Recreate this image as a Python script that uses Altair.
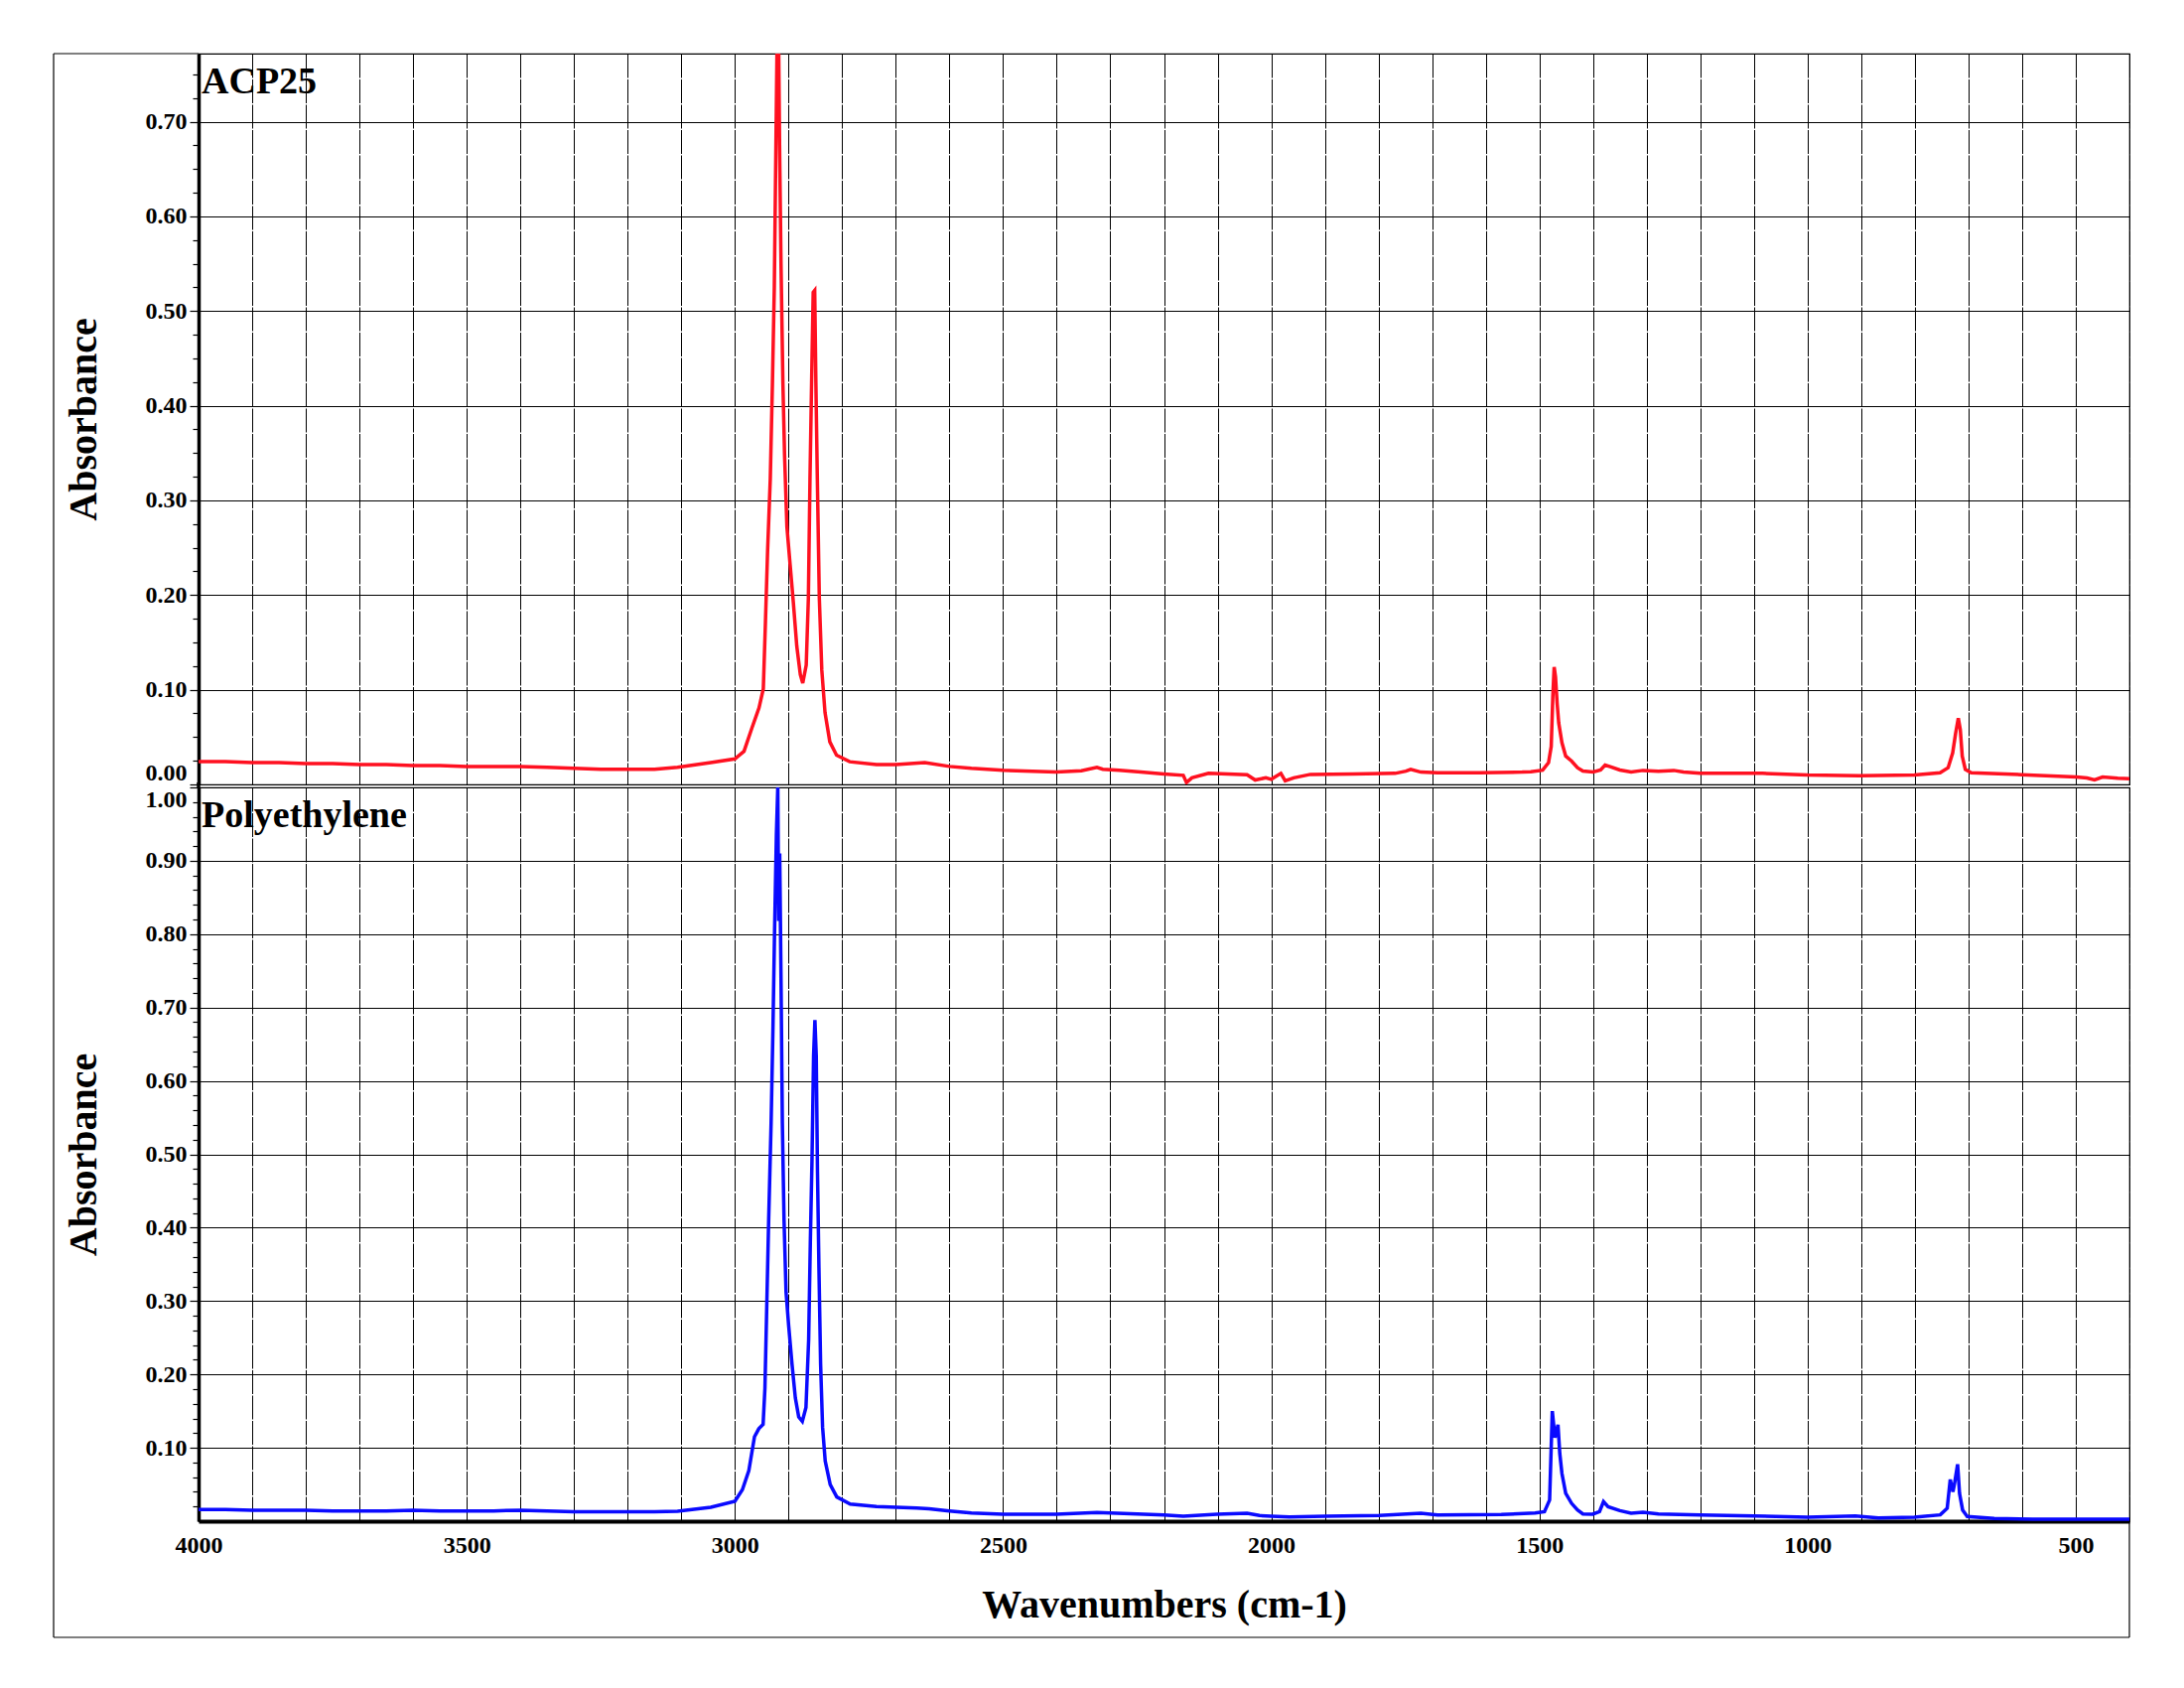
import altair as alt
import pandas as pd

# ---------------- data ----------------
acp_wn = [4000, 3950, 3900, 3850, 3800, 3750, 3700, 3650, 3600, 3550, 3500, 3450, 3400,
          3350, 3300, 3250, 3200, 3150, 3107, 3045, 3000, 2983, 2968, 2955, 2947, 2943,
          2939, 2934, 2930, 2926.5, 2923.5, 2921, 2918.5, 2916.7, 2914, 2910.5, 2907.4,
          2903, 2897, 2891, 2884.6, 2878, 2873.5, 2867, 2863, 2860, 2857, 2854, 2851.2,
          2849, 2846.3, 2842.6, 2838, 2832, 2823, 2810.5, 2786, 2736, 2700, 2646, 2600,
          2559, 2500, 2401, 2354, 2325, 2314, 2283, 2243, 2200, 2164, 2158, 2148, 2117,
          2045, 2030, 2010, 2000, 1982, 1974, 1958, 1927, 1848, 1769, 1749, 1740, 1721,
          1690, 1611, 1532, 1516, 1494, 1483, 1478, 1475, 1472.5, 1470, 1467, 1464, 1458,
          1451, 1440, 1429, 1419, 1400, 1386, 1377.5, 1368, 1350, 1329, 1307, 1278,
          1249.5, 1231.5, 1200, 1084, 1000, 904, 801, 753, 738, 729.5, 724, 719, 715.3,
          711.7, 706, 695, 601, 499, 479, 465, 450, 421.6, 400]
acp_abs = [0.024, 0.024, 0.023, 0.023, 0.022, 0.022, 0.021, 0.021, 0.020, 0.020, 0.019,
           0.019, 0.019, 0.018, 0.017, 0.016, 0.016, 0.016, 0.018, 0.023, 0.027, 0.035,
           0.060, 0.081, 0.101, 0.172, 0.247, 0.323, 0.424, 0.525, 0.676, 0.80, 0.79,
           0.676, 0.55, 0.424, 0.348, 0.272, 0.232, 0.192, 0.146, 0.116, 0.107, 0.126,
           0.197, 0.323, 0.424, 0.52, 0.522, 0.424, 0.323, 0.197, 0.121, 0.076, 0.045,
           0.031, 0.024, 0.021, 0.021, 0.023, 0.019, 0.017, 0.015, 0.013, 0.0145, 0.018,
           0.016, 0.015, 0.013, 0.011, 0.0096, 0.002, 0.007, 0.0117, 0.0103, 0.0047,
           0.007, 0.0054, 0.0117, 0.0037, 0.007, 0.0106, 0.011, 0.0117, 0.014, 0.0159,
           0.013, 0.0124, 0.0124, 0.013, 0.0134, 0.015, 0.023, 0.040, 0.093, 0.124,
           0.1135, 0.086, 0.065, 0.044, 0.030, 0.0246, 0.0176, 0.0141, 0.0131, 0.0152,
           0.0204, 0.0187, 0.0152, 0.0131, 0.0148, 0.0138, 0.0148, 0.0131, 0.0117,
           0.0117, 0.0099, 0.0092, 0.0099, 0.0124, 0.0176, 0.0333, 0.054, 0.070, 0.058,
           0.030, 0.016, 0.0124, 0.0103, 0.0078, 0.0068, 0.0047, 0.0078, 0.0065, 0.0061]

pe_wn = [4000, 3950, 3900, 3850, 3800, 3750, 3700, 3650, 3600, 3550, 3500, 3450, 3400,
         3350, 3300, 3250, 3200, 3150, 3107, 3045, 3000, 2986, 2974, 2963.5, 2955.4,
         2947.4, 2944, 2941, 2937, 2932.5, 2929, 2926, 2922.6, 2920, 2918.3, 2916.4,
         2914, 2911.5, 2908.4, 2904.6, 2899.7, 2893.5, 2887.3, 2881, 2874.3, 2867.5,
         2862.5, 2859.4, 2856.3, 2853.3, 2850.8, 2848.3, 2846, 2843.3, 2840.2, 2836.5,
         2831.6, 2822.3, 2810, 2785, 2736, 2661, 2638, 2600, 2559, 2500, 2401, 2325,
         2275, 2200, 2164, 2101, 2045, 2022, 2000, 1966, 1899, 1799, 1721, 1690, 1571,
         1508, 1490.6, 1481, 1476, 1471, 1465.4, 1462, 1458, 1451, 1440, 1429, 1419,
         1400.6, 1388, 1380.5, 1372, 1350, 1329, 1307, 1278, 1200, 1100, 1000, 911, 868,
         801, 752.7, 739.7, 734, 729, 725.5, 720.3, 716.7, 711, 702.3, 652, 580, 400]
pe_abs = [0.016, 0.016, 0.015, 0.015, 0.015, 0.014, 0.014, 0.014, 0.015, 0.014, 0.014,
          0.014, 0.015, 0.014, 0.013, 0.013, 0.013, 0.013, 0.0135, 0.019, 0.027, 0.043,
          0.069, 0.115, 0.126, 0.132, 0.181, 0.279, 0.411, 0.542, 0.673, 0.805, 0.936,
          1.0, 0.818, 0.91, 0.739, 0.542, 0.411, 0.312, 0.266, 0.214, 0.168, 0.142,
          0.136, 0.155, 0.247, 0.378, 0.49, 0.634, 0.683, 0.634, 0.476, 0.345, 0.214,
          0.128, 0.082, 0.05, 0.033, 0.0233, 0.020, 0.018, 0.017, 0.014, 0.0113, 0.0095,
          0.0095, 0.0117, 0.0104, 0.0086, 0.0068, 0.0095, 0.0108, 0.0077, 0.0068,
          0.0059, 0.0068, 0.0077, 0.0108, 0.0086, 0.009, 0.0113, 0.013, 0.0288, 0.150,
          0.114, 0.1315, 0.092, 0.065, 0.038, 0.0243, 0.0153, 0.0099, 0.0095, 0.013,
          0.0266, 0.0198, 0.0144, 0.0108, 0.0122, 0.0099, 0.0086, 0.0072, 0.0054,
          0.0072, 0.0045, 0.0054, 0.0086, 0.0176, 0.0568, 0.040, 0.0536, 0.0775,
          0.0378, 0.0153, 0.0063, 0.0036, 0.0027, 0.0027]

x_grid_values = list(range(400, 4001, 100))
top_y_values = [round(i * 0.025, 3) for i in range(0, 31)]
bottom_y_values = [round(i * 0.02, 2) for i in range(1, 51)]

panel_names = ["ACP25", "Polyethylene"]
x_title = "Wavenumbers (cm-1)"
y_title = "Absorbance"

# ---------------- styling ----------------
RED = "#ff1020"
BLUE = "#0a0aff"
FONT = "Liberation Serif"
W = 1945
H_TOP = 736
H_BOT = 739
GAP = 3
FRAME_X = -146

acp_df = pd.DataFrame({"wn": acp_wn, "abs": acp_abs})
pe_df = pd.DataFrame({"wn": pe_wn, "abs": pe_abs})

MAJOR = "abs(datum.value*10 - round(datum.value*10)) < 0.001"
x_scale = alt.Scale(domain=[400, 4000], reverse=True, nice=False, zero=False)


def y_axis(values, hide_zero):
    lab = ("datum.value > 0.001 && " if hide_zero else "") + MAJOR
    return alt.Axis(
        values=values,
        labelExpr=f"({lab}) ? format(datum.value, '.2f') : ''",
        tickSize={"condition": {"test": MAJOR, "value": 9}, "value": 6},
        gridOpacity={"condition": {"test": MAJOR, "value": 1}, "value": 0},
        grid=True, gridColor="black", gridWidth=1,
        domain=True, domainColor="black", domainWidth=3.5,
        ticks=True, tickColor="black", tickWidth=1.2,
        labelFont=FONT, labelFontWeight="bold", labelFontSize=24, labelColor="black",
        labelPadding=3, labelFlush=True,
        title=y_title, titleFont=FONT, titleFontWeight="bold", titleFontSize=40,
        titleColor="black", titlePadding=42,
    )


one = alt.Data(values=[{"a": 1}])


def rule(width=1.2, **enc):
    return alt.Chart(one).mark_rule(color="black", strokeWidth=width).encode(**enc)


def label(text):
    return alt.Chart(alt.Data(values=[{"t": text}])).mark_text(
        align="left", baseline="alphabetic", font=FONT, fontSize=38,
        fontWeight="bold", color="black"
    ).encode(x=alt.value(3), y=alt.value(40), text="t:N")


top_line = alt.Chart(acp_df).mark_line(color=RED, strokeWidth=3.5, clip=True).encode(
    x=alt.X("wn:Q", scale=x_scale,
            axis=alt.Axis(values=x_grid_values, labels=False, ticks=False, domain=False,
                          grid=True, gridColor="black", gridWidth=1, gridDash=[24, 1.5],
                          title=None)),
    y=alt.Y("abs:Q", scale=alt.Scale(domain=[0, 0.772], nice=False, zero=False),
            axis=y_axis(top_y_values, False)),
)

top = alt.layer(
    top_line,
    label(panel_names[0]),
    rule(x=alt.value(FRAME_X), y=alt.value(0), y2=alt.value(H_TOP + GAP)),
    rule(y=alt.value(0), x=alt.value(FRAME_X), x2=alt.value(0)),
    rule(width=3.5, x=alt.value(0), y=alt.value(H_TOP - 2), y2=alt.value(H_TOP + GAP + 1)),
).properties(width=W, height=H_TOP)

bot_line = alt.Chart(pe_df).mark_line(color=BLUE, strokeWidth=3.5, clip=True).encode(
    x=alt.X("wn:Q", scale=x_scale,
            axis=alt.Axis(values=x_grid_values,
                          labelExpr="datum.value % 500 === 0 ? datum.value : ''",
                          ticks=False, tickSize=0, domain=True, domainColor="black",
                          domainWidth=4, grid=True, gridColor="black", gridWidth=1,
                          gridDash=[24, 1.5], labelFont=FONT, labelFontWeight="bold",
                          labelFontSize=24, labelColor="black", labelPadding=12,
                          labelFlush=False,
                          title=x_title, titleFont=FONT, titleFontWeight="bold",
                          titleFontSize=40, titleColor="black", titlePadding=28)),
    y=alt.Y("abs:Q", scale=alt.Scale(domain=[0, 1.0], nice=False, zero=False),
            axis=y_axis(bottom_y_values, True)),
)

FRAME_BOTTOM = 856
bottom = alt.layer(
    bot_line,
    label(panel_names[1]),
    rule(x=alt.value(FRAME_X), y=alt.value(0), y2=alt.value(FRAME_BOTTOM)),
    rule(y=alt.value(FRAME_BOTTOM), x=alt.value(FRAME_X), x2=alt.value(W)),
    rule(x=alt.value(W), y=alt.value(H_BOT), y2=alt.value(FRAME_BOTTOM)),
).properties(width=W, height=H_BOT)

chart = alt.vconcat(top, bottom, spacing=GAP, bounds="flush").properties(
    padding={"left": 44, "top": 44, "right": 5, "bottom": 5},
    background="white",
).configure_view(stroke="black", strokeWidth=1.2)

chart.save("out.html", embed_options={"renderer": "svg", "actions": False})
